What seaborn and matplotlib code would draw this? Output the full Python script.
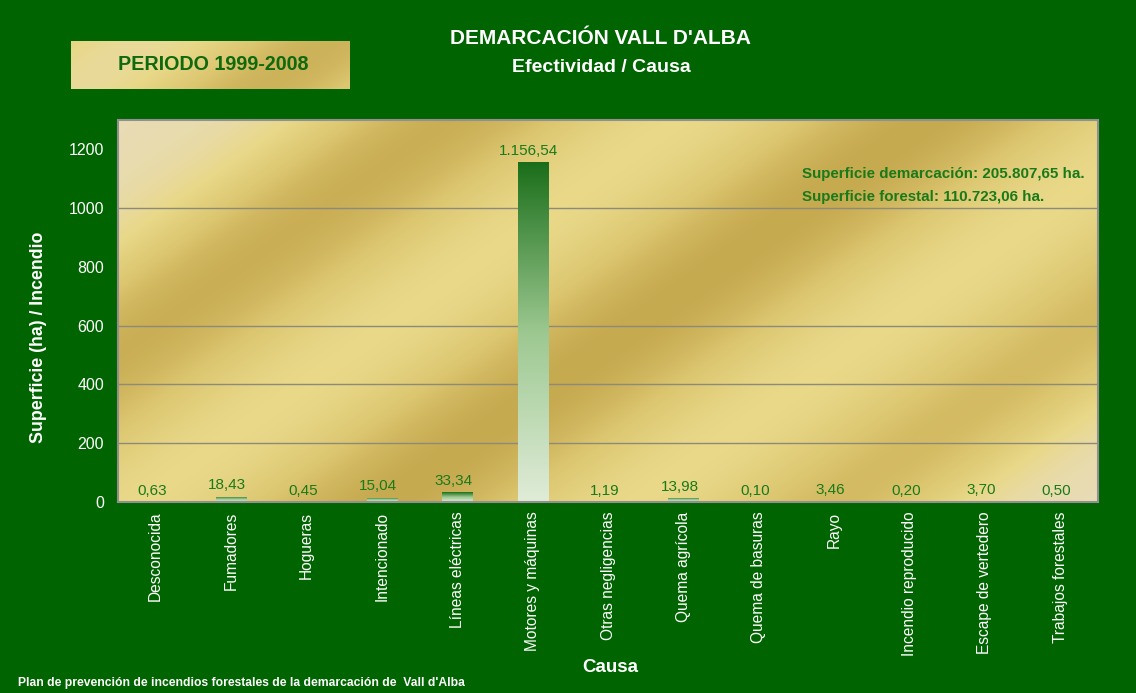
import numpy as np
import pandas as pd
import seaborn as sns
import matplotlib
matplotlib.use('Agg')
import matplotlib.pyplot as plt
from matplotlib.colors import LinearSegmentedColormap

# Datos
causas = ['Desconocida', 'Fumadores', 'Hogueras', 'Intencionado', 'Líneas eléctricas',
          'Motores y máquinas', 'Otras negligencias', 'Quema agrícola', 'Quema de basuras',
          'Rayo', 'Incendio reproducido', 'Escape de vertedero', 'Trabajos forestales']
efectividad = [0.63, 18.43, 0.45, 15.04, 33.34, 1156.54, 1.19, 13.98, 0.10, 3.46, 0.20, 3.70, 0.50]
y_ticks = [0, 200, 400, 600, 800, 1000, 1200]
lineas_guia = [200, 400, 600, 1000]

df = pd.DataFrame({'Causa': causas, 'Efectividad': efectividad})

VERDE_FONDO = '#006400'
VERDE_TEXTO = '#1a7a1a'
FUENTE = ['Liberation Sans', 'DejaVu Sans']


def fmt_es(v):
    s = f"{v:,.2f}"
    return s.replace(',', 'X').replace('.', ',').replace('X', '.')


sns.set_style('white')
plt.rcParams['font.family'] = FUENTE

fig = plt.figure(figsize=(11.36, 6.93), dpi=100, facecolor=VERDE_FONDO)
ax = fig.add_axes([118 / 1136, 1 - 502 / 693, 980 / 1136, 382 / 693])

# Fondo dorado con franjas diagonales
oro = LinearSegmentedColormap.from_list('oro', ['#e8dcb4', '#e8d888', '#dcc670', '#c6aa50'])
W, H = 980, 382
px, py = np.meshgrid(np.arange(W), np.arange(H))
n = 0.577 * px + 0.816 * py
franja = 0.5 + 0.5 * np.cos(2 * np.pi * (n - 179.5) / 287)
franja = 0.33 + 0.67 * franja
esquina = np.exp(-(n / 110) ** 2) + np.exp(-((n - 877) / 110) ** 2)
fondo = np.clip(franja * (1 - esquina), 0, 1)
ax.imshow(fondo, extent=[0, 1, 0, 1], transform=ax.transAxes, cmap=oro,
          aspect='auto', origin='upper', zorder=0, vmin=0, vmax=1)

sns.barplot(data=df, x='Causa', y='Efectividad', ax=ax, width=0.4, color='#2a7a2a', zorder=2)

# Degradado verde en las barras
verde = LinearSegmentedColormap.from_list('verde', ['#e0ecd8', '#9cc890', '#1a6e1a'])
grad = np.linspace(0, 1, 256).reshape(-1, 1)
for p in ax.patches:
    x0, w, h = p.get_x(), p.get_width(), p.get_height()
    p.set_facecolor('none')
    p.set_edgecolor('none')
    im = ax.imshow(grad, extent=[x0, x0 + w, 0, h], cmap=verde, aspect='auto',
                   origin='lower', zorder=2)
    im.set_clip_path(p)

for i, v in enumerate(efectividad):
    ax.text(i - 0.05, v + 14, fmt_es(v), ha='center', va='bottom', color=VERDE_TEXTO,
            fontsize=11)

ax.set_xlim(-0.5, len(causas) - 0.5)
ax.set_ylim(0, 1300)
ax.set_yticks(y_ticks)
ax.set_xticks(range(len(causas)))
ax.set_xticklabels(causas, rotation=90, color='white', fontsize=11.2)
ax.set_xticks(np.arange(-0.5, len(causas), 1), minor=True)
ax.tick_params(axis='x', which='major', length=0, pad=7)
ax.tick_params(axis='x', which='minor', length=4, color='#909090', width=1)
ax.tick_params(axis='y', length=3, color='#909090', labelcolor='white', labelsize=11.5, pad=7)

for g in lineas_guia:
    ax.axhline(g, color='#8c8a78', linewidth=1.0, zorder=0.5)
for s in ax.spines.values():
    s.set_color('#909090')
    s.set_linewidth(1.5)

ax.set_xlabel('Causa', color='white', fontsize=13.5, fontweight='bold')
ax.xaxis.set_label_coords((610 - 118) / 980, -(659 - 502) / 382)
ax.set_ylabel('Superficie (ha) / Incendio', color='white', fontsize=12.8, fontweight='bold')
ax.yaxis.set_label_coords(-(118 - 47) / 980, (502 - 337) / 382)

fig.text(802 / 1136, 1 - 174 / 693, 'Superficie demarcación: 205.807,65 ha.',
         ha='left', va='center', color=VERDE_TEXTO, fontsize=10.9, fontweight='bold')
fig.text(802 / 1136, 1 - 197 / 693, 'Superficie forestal: 110.723,06 ha.',
         ha='left', va='center', color=VERDE_TEXTO, fontsize=10.9, fontweight='bold')

# Titulos
fig.text(600 / 1136, 1 - 38 / 693, "DEMARCACIÓN VALL D'ALBA", ha='center', va='center',
         color='white', fontsize=15, fontweight='bold')
fig.text(601 / 1136, 1 - 67 / 693, 'Efectividad / Causa', ha='center', va='center',
         color='white', fontsize=14, fontweight='bold')

# Recuadro del periodo
ax_p = fig.add_axes([71 / 1136, 1 - 89 / 693, 279 / 1136, 48 / 693])
bx, by = np.meshgrid(np.arange(279), np.arange(48))
caja = 0.5 + 0.5 * np.cos(2 * np.pi * (0.577 * bx + 0.816 * by - 150) / 220)
ax_p.imshow(0.2 + 0.7 * caja, cmap=oro, aspect='auto', extent=[0, 1, 0, 1],
            origin='upper', vmin=0, vmax=1)
ax_p.set_axis_off()
ax_p.text(0.51, 0.5, 'PERIODO 1999-2008', ha='center', va='center', color='#0f6a0f',
          fontsize=14.2, fontweight='bold', transform=ax_p.transAxes)

fig.text(18 / 1136, 1 - 683 / 693, "Plan de prevención de incendios forestales de la demarcación de  Vall d'Alba",
         ha='left', va='center', color='white', fontsize=8.7, fontweight='bold')

fig.savefig('out.png', dpi=100, facecolor=VERDE_FONDO)
plt.close()
